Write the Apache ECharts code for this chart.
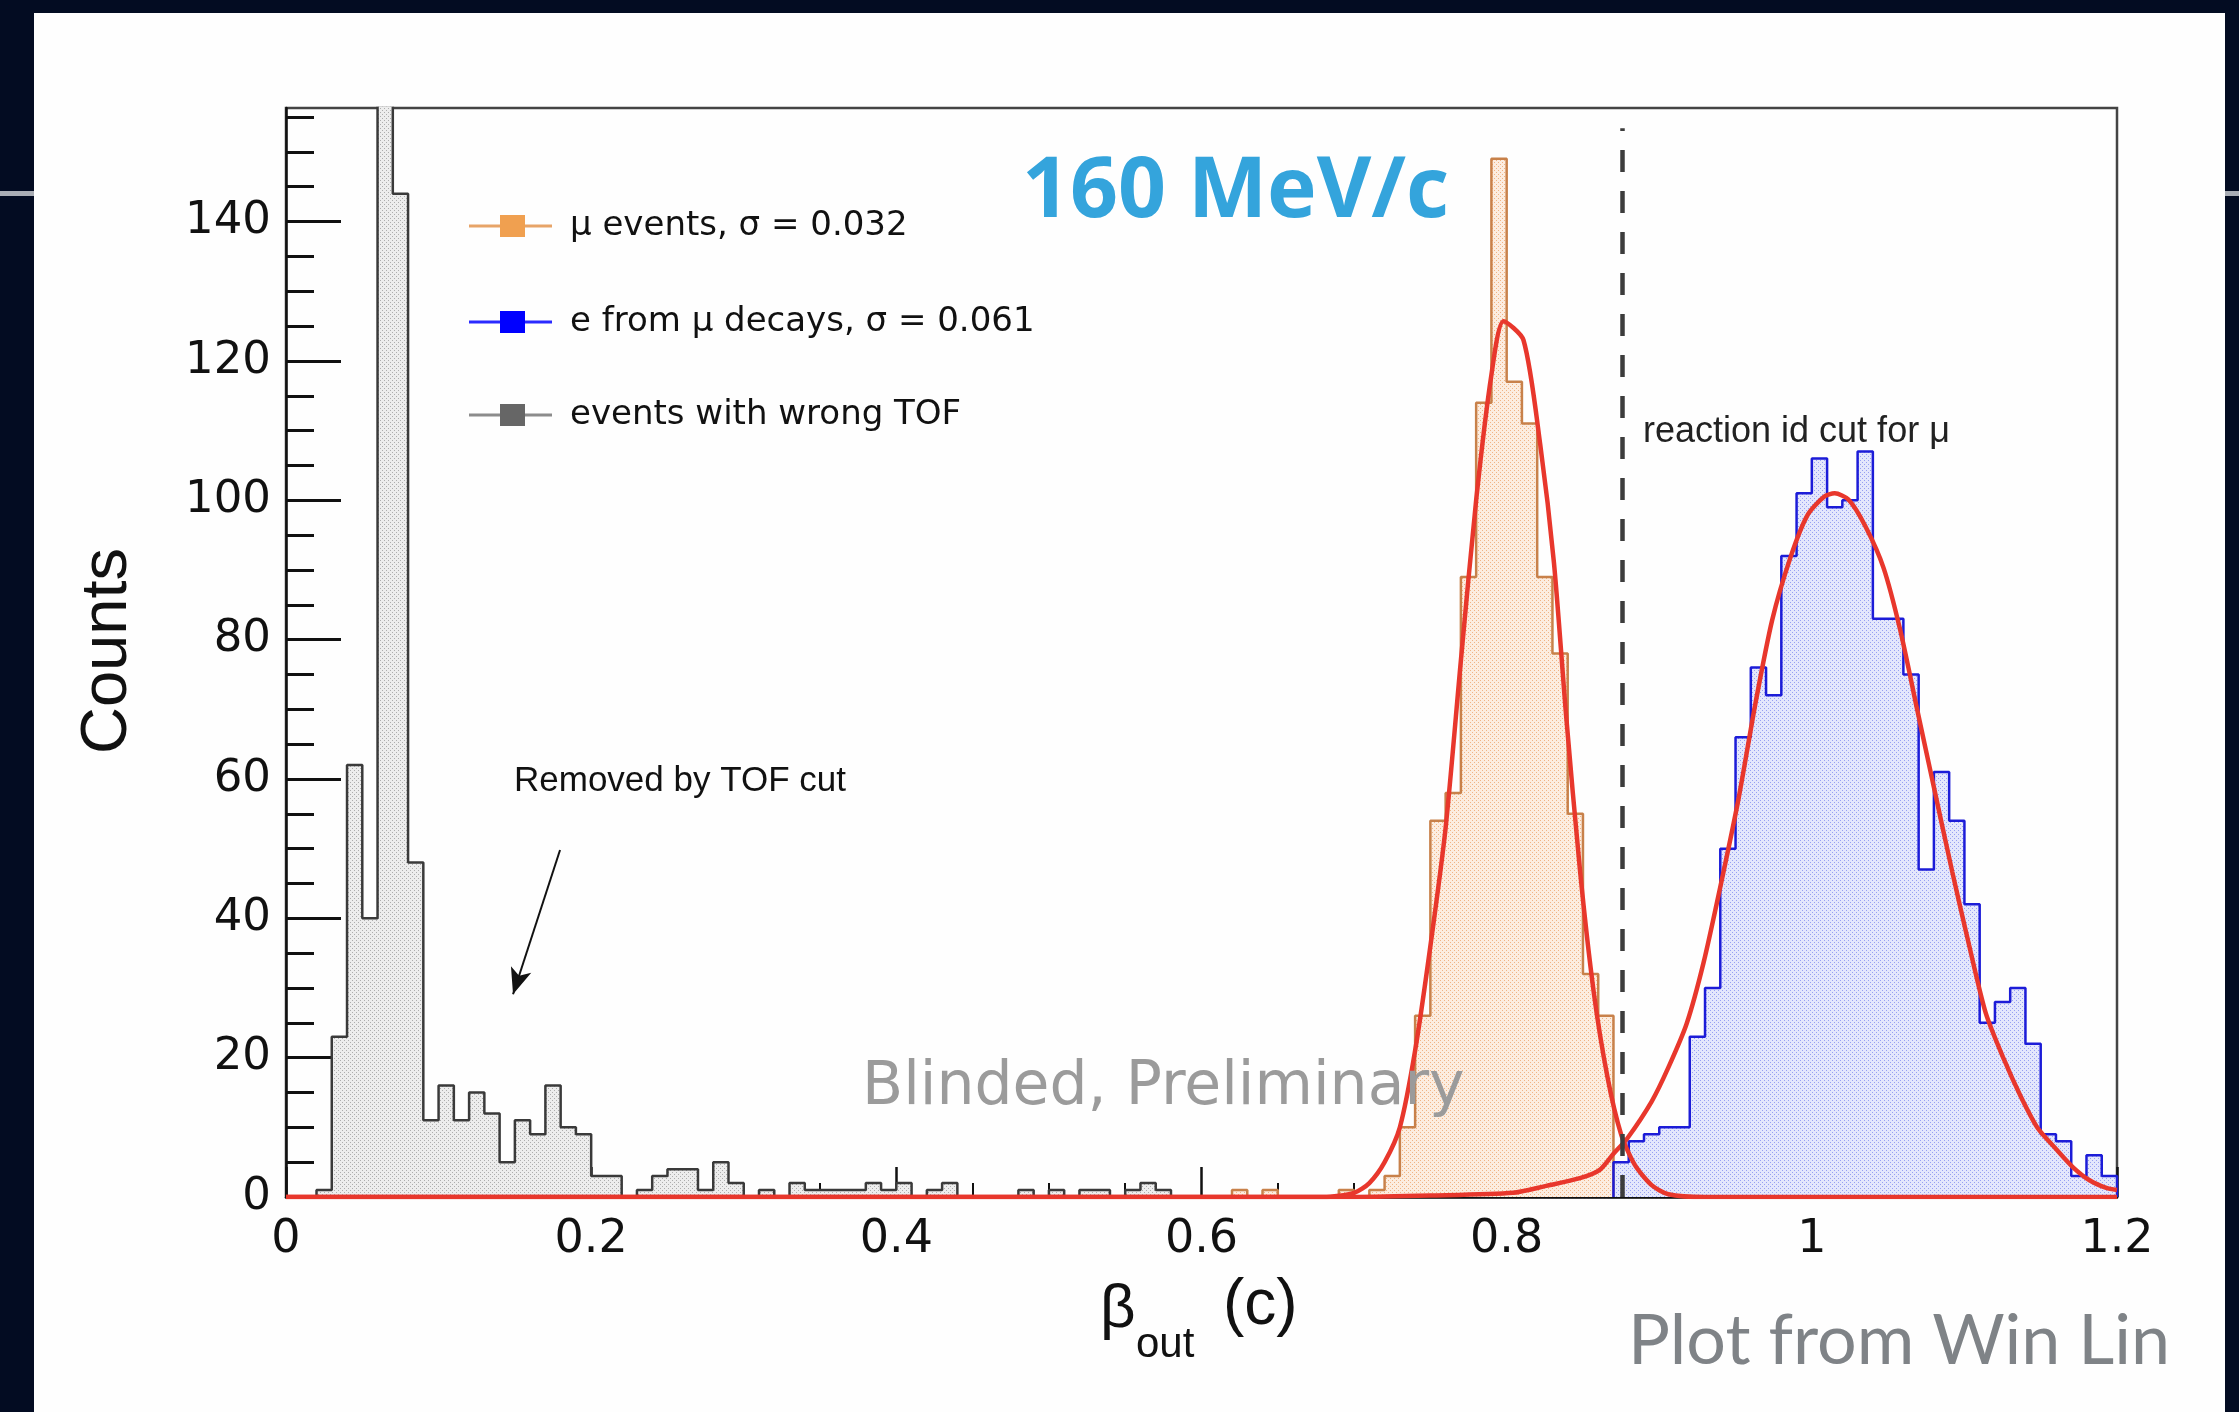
<!DOCTYPE html>
<html>
<head>
<meta charset="utf-8">
<title>beta_out at 160 MeV/c</title>
<script src="https://cdn.jsdelivr.net/npm/echarts@6.0.0/dist/echarts.min.js"></script>
<style>
  html, body { margin: 0; padding: 0; background: #030c22; overflow: hidden; }
  #chart { width: 2239px; height: 1412px; }
</style>
</head>
<body>
<div id="chart"></div>
<script>
const binWidth = 0.01;

// events with wrong TOF, bins from 0.00 (bin 0.06 is off scale)
const wrongTofStart = 0.0;
const wrongTofCounts = [
  0, 0, 1, 23, 62, 40, 170, 144, 48, 11,
  16, 11, 15, 12, 5, 11, 9, 16, 10, 9,
  3, 3, 0, 1, 3, 4, 4, 1, 5, 2,
  0, 1, 0, 2, 1, 1, 1, 1, 2, 1,
  2, 0, 1, 2, 0, 0, 0, 0, 1, 0,
  1, 0, 1, 1, 0, 1, 2, 1, 0, 0
];

// mu events, bins from 0.60
const muStart = 0.6;
const muCounts = [
  0, 0, 1, 0, 1, 0, 0, 0, 0, 1,
  0, 1, 3, 10, 26, 54, 58, 89, 114, 149,
  117, 111, 89, 78, 55, 32, 26
];

// e from mu decays, bins from 0.87
const eStart = 0.87;
const eCounts = [
  5, 8, 9, 10, 10, 23, 30, 50, 66, 76,
  72, 92, 101, 106, 99, 100, 107, 83, 83, 75,
  47, 61, 54, 42, 25, 28, 30, 22, 9, 8,
  3, 6, 3
];

// fitted curves, points
const muFit = [
  [0, 0], [0.68, 0], [0.70, 0.6], [0.71, 2], [0.72, 5], [0.73, 10], [0.74, 21],
  [0.75, 36], [0.76, 53], [0.77, 77], [0.78, 100], [0.79, 118], [0.798, 125.7],
  [0.811, 123], [0.822, 108], [0.831, 91], [0.839, 69], [0.848, 47], [0.857, 29.5],
  [0.866, 17.3], [0.875, 9], [0.884, 4.6], [0.895, 1.7], [0.906, 0.4], [0.93, 0], [1.2, 0]
];
const eFit = [
  [0, 0], [0.70, 0], [0.75, 0.2], [0.804, 0.6], [0.826, 1.6], [0.848, 2.7], [0.861, 3.9],
  [0.870, 6.2], [0.879, 8.4], [0.895, 13.7], [0.906, 18.6], [0.918, 24.9], [0.929, 33.6],
  [0.940, 44.5], [0.952, 57.2], [0.963, 70.8], [0.974, 82.8], [0.986, 91.8], [0.997, 97.8],
  [1.008, 100.5], [1.015, 101], [1.024, 100.1], [1.035, 96.3], [1.047, 90.3], [1.058, 81.3],
  [1.069, 70], [1.080, 58.8], [1.092, 46.7], [1.103, 36.2], [1.114, 26.4], [1.126, 19.7],
  [1.137, 14.4], [1.148, 9.9], [1.160, 6.9], [1.171, 4.3], [1.182, 2.4], [1.193, 1.3], [1.2, 1.0]
];

const yMax = 156.3;
const yMajorTicks = [0, 20, 40, 60, 80, 100, 120, 140];
const yMinorTicks = [5, 10, 15, 25, 30, 35, 45, 50, 55, 65, 70, 75, 85, 90, 95,
  105, 110, 115, 125, 130, 135, 145, 150, 155];

const cutBeta = 0.8756;   // reaction id cut
const cutTop = 153.4;
const arrowFrom = [0.1796, 49.8];
const arrowTo = [0.1488, 29.1];

function histPoints(start, counts) {
  const r = v => Math.round(v * 1000) / 1000;
  const pts = [[start, 0]];
  counts.forEach((c, i) => pts.push([r(start + i * binWidth), c]));
  const end = r(start + counts.length * binWidth);
  pts.push([end, counts[counts.length - 1]], [end, 0]);
  return pts;
}

// dotted fill like the ROOT fill style
function dots(base, dot) {
  const c = document.createElement('canvas');
  c.width = 4; c.height = 4;
  const g = c.getContext('2d');
  g.fillStyle = base; g.fillRect(0, 0, 4, 4);
  g.fillStyle = dot; g.fillRect(0, 0, 1, 1); g.fillRect(2, 2, 1, 1);
  return c;
}

function histSeries(name, pts, color, fill, extra) {
  return Object.assign({
    type: 'line', name: name, data: pts, step: 'end',
    symbol: 'none', showSymbol: false, silent: true, z: 2,
    lineStyle: { color: color, width: 2.5 },
    areaStyle: { color: { image: fill, repeat: 'repeat' }, opacity: 1 }
  }, extra || {});
}

function txt(text, x, y, size, family, color, extra) {
  return Object.assign({
    type: 'text', x: x, y: y, silent: true, z: 10,
    style: {
      text: text, fontSize: size, fontFamily: family, fill: color,
      align: 'left', verticalAlign: 'middle',
      textAlign: 'left', textVerticalAlign: 'middle'
    }
  }, extra || {});
}

function legendRow(y, lineColor, boxColor, text) {
  return [
    { type: 'line', silent: true, z: 10, shape: { x1: 469, y1: y, x2: 552, y2: y },
      style: { stroke: lineColor, lineWidth: 3 } },
    { type: 'rect', silent: true, z: 11, shape: { x: 500, y: y - 11, width: 25, height: 22 },
      style: { fill: boxColor } },
    txt(text, 570, y, 34, 'DejaVu Sans', '#111')
  ];
}

const rootFont = 'DejaVu Sans';
const chart = echarts.init(document.getElementById('chart'));

const options = {
  backgroundColor: '#030c22',
  animation: false,
  grid: {
    left: 286, top: 108, right: 122, bottom: 215,
    show: true, borderColor: '#444', borderWidth: 2.5, backgroundColor: 'transparent'
  },
  xAxis: {
    type: 'value', min: 0, max: 1.2, interval: 0.2,
    axisLine: { onZero: false, lineStyle: { color: '#111', width: 2.5 } },
    axisTick: { inside: true, length: 30, lineStyle: { color: '#111', width: 2.5 } },
    minorTick: { show: true, splitNumber: 4, length: 14, lineStyle: { color: '#111', width: 2 } },
    axisLabel: { fontFamily: rootFont, fontSize: 46, color: '#111', margin: 20 },
    splitLine: { show: false }
  },
  yAxis: [
    {
      type: 'value', min: 0, max: yMax, position: 'left', offset: 0,
      axisLine: { show: true, lineStyle: { color: '#111', width: 2.5 } },
      axisTick: { show: true, inside: true, length: 55, customValues: yMajorTicks,
        lineStyle: { color: '#111', width: 3 } },
      axisLabel: { customValues: yMajorTicks, fontFamily: rootFont, fontSize: 45,
        color: '#111', margin: 15 },
      splitLine: { show: false }
    },
    {
      type: 'value', min: 0, max: yMax, position: 'left', offset: 0,
      axisLine: { show: false },
      axisTick: { show: true, inside: true, length: 28, customValues: yMinorTicks,
        lineStyle: { color: '#111', width: 3 } },
      axisLabel: { show: false },
      splitLine: { show: false }
    }
  ],
  series: [
    histSeries('events with wrong TOF', histPoints(wrongTofStart, wrongTofCounts),
      '#3a3a3a', dots('#ededed', '#adadad'), {
        markLine: {
          silent: true, animation: false, symbol: ['none', 'arrow'], symbolSize: [16, 26],
          label: { show: false },
          lineStyle: { color: '#111', width: 2, type: 'solid' },
          data: [[{ coord: arrowFrom }, { coord: arrowTo }]]
        }
      }),
    histSeries('mu events', histPoints(muStart, muCounts),
      '#c8814a', dots('#fcede0', '#f0b485')),
    histSeries('e from mu decays', histPoints(eStart, eCounts),
      '#1c1cd8', dots('#e4e7fc', '#97a0f2')),
    {
      type: 'line', name: 'mu fit', data: muFit, smooth: 0.25, symbol: 'none',
      showSymbol: false, silent: true, z: 3,
      lineStyle: { color: '#e8372c', width: 4.5 }
    },
    {
      type: 'line', name: 'e fit', data: eFit, smooth: 0.25, symbol: 'none',
      showSymbol: false, silent: true, z: 3,
      lineStyle: { color: '#e8372c', width: 4.5 },
      markLine: {
        silent: true, animation: false, symbol: 'none', label: { show: false },
        lineStyle: { color: '#3c3c3c', width: 4.5, type: [22, 19] },
        data: [[{ coord: [cutBeta, 0] }, { coord: [cutBeta, cutTop] }]]
      }
    }
  ],
  graphic: [
    // white slide panel and the slide's grey rule
    { type: 'rect', silent: true, z: -10, shape: { x: 34, y: 13, width: 2191, height: 1399 },
      style: { fill: '#fefefe' } },
    { type: 'rect', silent: true, z: -9, shape: { x: 0, y: 191, width: 34, height: 5 },
      style: { fill: '#a9adb5' } },
    { type: 'rect', silent: true, z: -9, shape: { x: 2225, y: 191, width: 14, height: 5 },
      style: { fill: '#a9adb5' } },

    ...legendRow(226, '#e7a468', '#f0a050', 'μ events, σ = 0.032'),
    ...legendRow(322, '#2a2aff', '#0000ff', 'e from μ decays, σ = 0.061'),
    ...legendRow(415, '#8c8c8c', '#666666', 'events with wrong TOF'),

    txt('160 MeV/c', 1022, 193, 84, 'Open Sans', '#34a4dc',
      { style: { text: '160 MeV/c', fontSize: 84, fontFamily: 'Open Sans', fontWeight: 'bold',
        fill: '#34a4dc', align: 'left', verticalAlign: 'middle',
        textAlign: 'left', textVerticalAlign: 'middle' } }),
    txt('reaction id cut for μ', 1643, 432, 36, 'Liberation Sans', '#222'),
    txt('Removed by TOF cut', 514, 781, 35, 'Liberation Sans', '#111'),
    txt('Blinded, Preliminary', 862, 1088, 60, rootFont, '#9b9b9b'),

    // axis titles
    txt('Counts', 108, 651, 65, 'Liberation Sans', '#111', {
      rotation: Math.PI / 2,
      style: { text: 'Counts', fontSize: 65, fontFamily: 'Liberation Sans', fill: '#111',
        align: 'center', verticalAlign: 'middle', textAlign: 'center', textVerticalAlign: 'middle' }
    }),
    txt('β', 1100, 1310, 62, 'Liberation Sans', '#111'),
    txt('out', 1136, 1345, 42, 'Liberation Sans', '#111'),
    txt('(c)', 1223, 1306, 64, 'Liberation Sans', '#111'),

    txt('Plot from Win Lin', 1628, 1341, 70, 'Lato', '#7f8387')
  ]
};

chart.setOption(options);
</script>
</body>
</html>
